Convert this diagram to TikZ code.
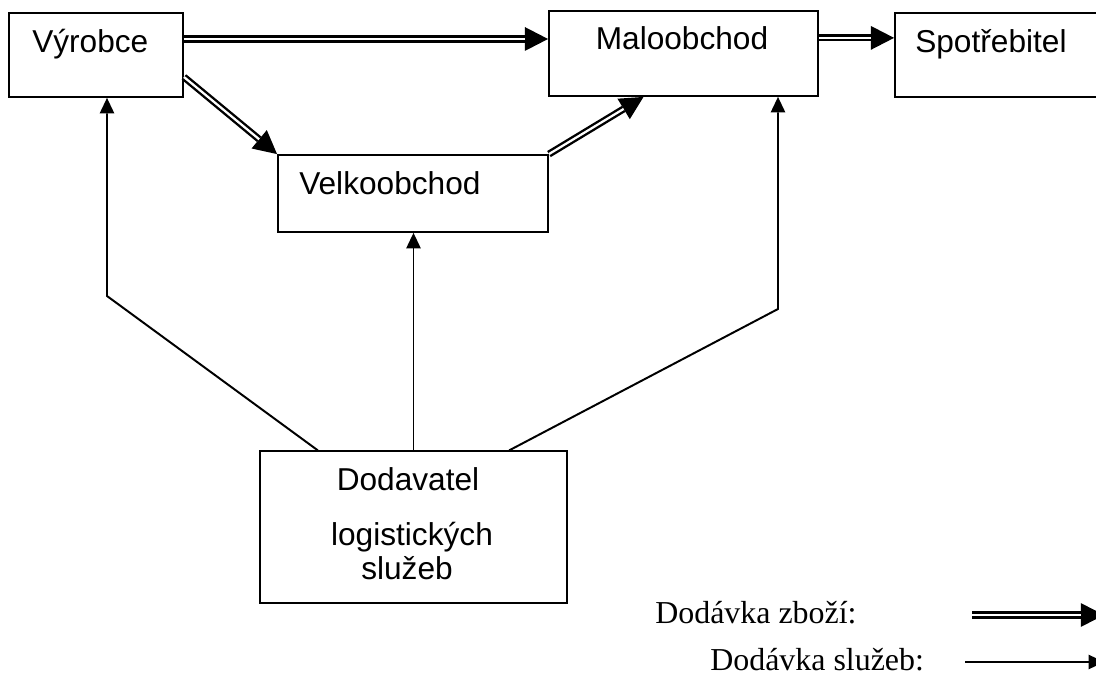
\documentclass[tikz,border=0pt]{standalone}
\usepackage{fontspec}
\setmainfont{Liberation Sans}
\newfontfamily\legendfont{Liberation Serif}
\usetikzlibrary{arrows.meta}

\tikzset{
  box/.style={draw, line width=1.3pt, inner sep=0pt},
  lbl/.style={inner sep=0pt, font=\fontsize{22.5}{27}\selectfont},
  legend/.style={inner sep=0pt, font=\legendfont\fontsize{22.7}{27}\selectfont},
  goods/.style={line width=5pt, -{Triangle[length=16.5pt,width=17pt,line width=0pt]},
    postaction={draw=white, line width=1.6pt, -, shorten >=16.5pt}},
  service/.style={line width=1.4pt, -{Triangle[length=11pt,width=10.5pt,line width=0pt]}},
}

\begin{document}
\begin{tikzpicture}[x=0.025cm, y=-0.025cm]
\useasboundingbox (0,0) rectangle (1096,682);

% boxes
\node[box, minimum width=4.35cm, minimum height=2.1cm] (vyr) at (96,55) {};
\node[box, minimum width=6.725cm, minimum height=2.125cm] (malo) at (683.5,53.5) {};
\node[box, minimum width=5.4cm, minimum height=2.1cm] (spot) at (1003,55) {};
\node[box, minimum width=6.75cm, minimum height=1.925cm] (velk) at (413,193.5) {};
\node[box, line width=0.8pt, minimum width=7.675cm, minimum height=3.8cm] (dod) at (413.5,527) {};

% texts
\node[lbl, anchor=base west] (vyrT) at (32,53) {Výrobce};
\node[lbl, anchor=base] (maloT) at (682,50) {Maloobchod};
\node[lbl, anchor=base west] (spotT) at (915,53) {Spotřebitel};
\node[lbl, anchor=base west] (velkT) at (299,195) {Velkoobchod};
\node[lbl, anchor=base] (dodT1) at (408,490) {Dodavatel};
\node[lbl, anchor=base] (dodT2) at (412,545) {logistických};
\node[lbl, anchor=base] (dodT3) at (407,579) {služeb};

% goods
\draw[goods] ([yshift=.4cm]vyr.east) -- ([yshift=.4cm]vyr.east -| malo.west);
\draw[goods] ([yshift=-.55cm]vyr.east) -- (velk.north west);
\draw[goods] (velk.north east) -- ([xshift=-1cm]malo.south);
\draw[goods] ([yshift=.39cm]malo.east) -- ([yshift=.39cm]malo.east -| spot.west);

% services
\coordinate (bendL) at (107,296);
\coordinate (bendR) at (778,309);
\draw[service] ([xshift=-2.39cm]dod.north) -- (bendL) -- (bendL |- vyr.south);
\draw[service] (dod.north) -- (dod.north |- velk.south);
\draw[service] ([xshift=2.39cm]dod.north) -- (bendR) -- (bendR |- malo.south);

% legend
\node[legend, anchor=base west] (zbozi) at (655,623) {Dodávka zboží:};
\node[legend, anchor=base west] (sluzby) at (710,670) {Dodávka služeb:};
\coordinate (zA) at (972,615);
\coordinate (zB) at (1104,615);
\coordinate (sA) at (965,662);
\coordinate (sB) at (1104,662);
\draw[goods] (zA) -- (zB);
\draw[service] (sA) -- (sB);
\end{tikzpicture}
\end{document}
